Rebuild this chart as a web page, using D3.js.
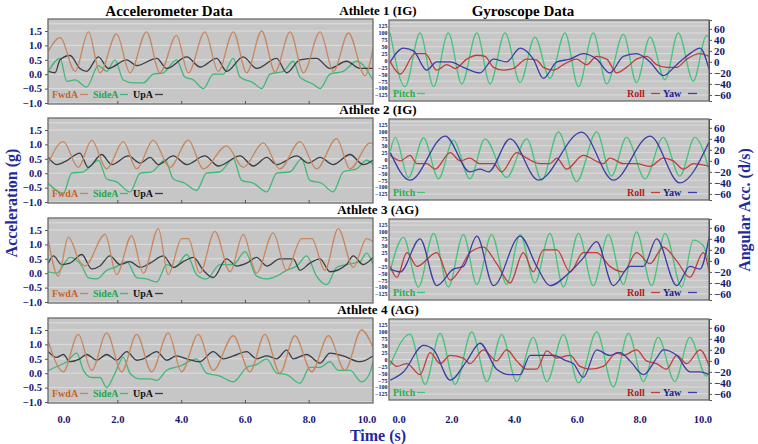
<!DOCTYPE html>
<html><head><meta charset="utf-8">
<script src="https://cdn.jsdelivr.net/npm/d3@7"></script>
<style>
body{margin:0;background:#fff}
text{font-family:"Liberation Serif","Times New Roman",serif;font-weight:bold}
</style>
</head><body><svg id="c" width="758" height="444"></svg>
<script>
// ---------- labels ----------
const athletes = ["Athlete 1 (IG)", "Athlete 2 (IG)", "Athlete 3 (AG)", "Athlete 4 (AG)"];
const accTicks = [1.5, 1.0, 0.5, 0.0, -0.5, -1.0];
const pitchTicks = [125, 100, 75, 50, 25, 0, -25, -50, -75, -100, -125];
const rateTicks = [60, 40, 20, 0, -20, -40, -60];
const timeTicks = [0, 2, 4, 6, 8, 10];

// ---------- Athlete 1 accelerometer ----------
const fwdA_t1 = [-0.18,0.19,0.66,1.08,1.44,1.96,2.38,2.90,3.32,3.84,4.21,4.73,5.15,5.62,6.04,6.51,6.93,7.40,7.82,8.34,8.76,9.23,9.75,10.0];
const fwdA_v1 = [0.8,1.27,0.1,1.47,0.05,1.4,0.05,1.47,0.05,1.35,0.05,1.47,0.1,1.47,0.05,1.5,0.08,1.47,0.05,1.47,0.1,1.43,-0.05,0.9];
const sideA_t1 = [-0.18,0.19,0.40,0.66,1.02,1.39,1.65,1.91,2.17,2.49,2.80,3.11,3.43,3.84,4.10,4.37,4.68,4.99,5.30,5.62,5.83,6.25,6.51,6.77,7.19,7.50,7.71,8.13,8.34,8.65,9.07,9.49,10.0];
const sideA_v1 = [0.1,0.55,-0.25,-0.2,-0.45,0.3,0.1,0.5,-0.2,-0.3,-0.3,0.0,0.05,0.5,-0.1,-0.2,-0.5,0.0,0.0,0.55,-0.1,-0.3,-0.5,0.0,0.1,0.45,-0.1,-0.35,-0.5,0.0,0.1,0.45,-0.2];
const upA_t1 = [-0.18,0.03,0.19,0.50,0.81,1.02,1.39,1.70,2.28,2.59,3.22,3.53,4.16,4.58,5.10,5.41,5.93,6.35,6.98,7.29,7.71,8.23,8.65,9.17,9.59,10.0];
const upA_v1 = [0.1,0.05,0.5,0.65,0.2,0.1,0.6,0.2,0.5,0.3,0.55,0.2,0.6,0.25,0.55,0.1,0.6,0.2,0.55,0.05,0.5,0.55,0.2,0.45,0.2,0.2];

// ---------- Athlete 2 accelerometer ----------
const fwdA_t2 = [-0.18,0.29,0.76,1.18,1.65,2.17,2.59,3.11,3.63,4.21,4.68,5.41,5.93,6.56,7.08,7.71,8.23,8.86,9.28,9.91,10.0];
const fwdA_v2 = [0.35,1.1,0.2,1.15,0.15,1.1,0.15,1.15,0.2,1.15,0.15,0.95,0.2,1.05,0.15,1.1,0.15,1.2,0.15,1.05,1.0];
const sideA_t2 = [-0.18,0.29,0.55,0.92,1.39,1.65,1.96,2.38,2.70,3.06,3.48,3.74,4.10,4.47,4.78,5.20,5.62,5.88,6.25,6.67,6.98,7.40,7.76,8.02,8.39,8.75,9.07,9.49,9.80,10.0];
const sideA_v2 = [-0.35,-0.7,0.0,0.05,0.45,-0.2,-0.3,-0.65,0.0,0.05,0.45,-0.2,-0.35,-0.6,0.0,0.05,0.5,-0.25,-0.35,-0.65,0.0,0.05,0.5,-0.25,-0.35,-0.65,0.05,0.15,0.45,0.3];
const upA_t2 = [-0.18,0.08,0.34,0.81,1.07,1.49,1.81,2.33,2.70,3.01,3.27,3.74,4.16,4.73,5.15,5.83,6.25,6.67,6.98,7.61,7.97,8.34,8.75,9.28,9.69,10.0];
const upA_v2 = [0.55,0.3,0.4,0.7,0.2,0.65,0.3,0.6,0.35,0.55,0.3,0.6,0.3,0.6,0.25,0.6,0.25,0.55,0.3,0.6,0.35,0.55,0.3,0.65,0.3,0.45];

// ---------- Athlete 3 accelerometer ----------
const fwdA_t3 = [-0.18,0.13,0.45,0.81,0.97,1.60,1.96,2.43,2.80,3.27,3.58,4.00,4.21,4.57,5.04,5.52,5.93,6.35,6.87,7.29,7.76,8.08,8.49,8.91,9.38,9.80,10.0];
const fwdA_v3 = [1.15,-0.1,1.25,0.4,0.25,1.35,-0.05,1.3,0.0,1.55,-0.05,1.2,1.2,0.0,1.45,0.05,1.35,0.0,1.4,0.1,1.2,1.2,0.1,1.55,0.2,1.2,1.1];
const sideA_t3 = [-0.18,0.08,0.50,0.87,1.07,1.34,1.65,1.91,2.28,2.59,2.90,3.22,3.53,3.79,4.16,4.47,4.78,5.20,5.62,5.99,6.35,6.67,6.98,7.29,7.61,7.92,8.23,8.55,8.86,9.17,9.59,9.80,10.0];
const sideA_v3 = [0.05,0.0,0.55,0.25,-0.15,-0.2,0.1,0.2,0.4,-0.15,-0.2,-0.3,0.3,0.2,0.65,-0.05,-0.2,0.3,0.3,0.75,-0.1,-0.2,-0.1,0.1,0.25,0.6,-0.1,-0.4,0.2,0.3,0.4,0.7,0.3];
const upA_t3 = [-0.18,-0.02,0.24,0.50,0.87,1.18,1.44,1.75,2.07,2.38,2.70,3.01,3.43,3.74,4.05,4.37,4.68,4.99,5.41,5.72,6.04,6.35,6.67,7.08,7.50,7.71,8.02,8.34,8.65,9.17,9.38,9.69,10.0];
const upA_v3 = [0.35,0.6,0.3,0.35,0.65,0.15,0.25,0.6,0.3,0.4,0.2,0.35,0.6,0.2,0.4,0.55,0.1,-0.15,0.5,0.25,0.35,0.55,0.25,0.5,0.5,0.1,0.35,0.5,0.05,0.3,0.6,0.3,0.55];

// ---------- Athlete 4 accelerometer ----------
const fwdA_t4 = [-0.18,0.29,0.76,1.18,1.65,2.12,2.59,3.06,3.58,4.00,4.52,4.99,5.62,6.14,6.61,7.08,7.55,8.08,8.60,9.12,9.64,10.0];
const fwdA_v4 = [1.1,0.05,1.35,0.1,1.4,0.05,1.35,0.05,1.4,0.05,1.35,0.1,1.3,0.05,1.35,0.0,1.3,0.05,1.3,0.1,1.5,0.9];
const sideA_t4 = [-0.18,0.13,0.40,0.71,0.92,1.18,1.44,1.65,1.91,2.17,2.38,2.70,3.01,3.22,3.53,3.95,4.47,4.78,5.20,5.62,6.04,6.35,6.67,6.98,7.29,7.71,8.02,8.34,8.65,8.91,9.28,9.64,9.90,10.0];
const sideA_v4 = [0.1,0.25,0.4,0.7,0.1,-0.15,-0.15,-0.5,0.0,0.55,0.0,-0.2,-0.2,-0.25,0.1,0.25,0.5,0.0,-0.1,-0.3,0.2,0.3,0.5,0.0,-0.05,-0.35,0.2,0.2,0.4,0.1,0.1,-0.3,0.0,0.4];
const upA_t4 = [-0.18,0.08,0.29,0.50,0.81,1.02,1.34,1.65,1.96,2.28,2.59,2.80,3.22,3.53,3.84,4.16,4.57,4.99,5.31,5.62,6.04,6.35,6.67,6.98,7.29,7.50,7.92,8.34,8.65,9.07,9.59,10.0];
const upA_v4 = [0.75,0.55,0.65,0.4,0.5,0.65,0.45,0.65,0.45,0.75,0.45,0.5,0.75,0.45,0.6,0.5,0.4,0.75,0.5,0.6,0.75,0.5,0.6,0.5,0.8,0.5,0.65,0.35,0.7,0.6,0.4,0.6];

// ---------- Athlete 1 gyroscope ----------
const pitch_t1 = [-0.06,0.41,0.89,1.32,1.79,2.22,2.70,3.12,3.60,4.08,4.55,5.03,5.51,5.94,6.41,6.84,7.37,7.79,8.22,8.70,9.12,9.60,10.02,10.11];
const pitch_v1 = [100,-95,100,-95,100,-85,100,-85,100,-80,85,-65,100,-95,100,-85,95,-80,85,-70,100,-75,90,85];
const roll_t1 = [-0.06,0.26,0.73,1.05,1.42,1.74,2.01,2.38,2.70,2.96,3.23,3.55,3.86,4.29,4.61,4.82,5.14,5.46,5.88,6.20,6.52,6.84,7.16,7.47,7.79,8.11,8.43,8.75,9.07,9.39,9.81,10.11];
const roll_v1 = [0,-22,15,15,-15,-5,-12,5,12,10,-10,-15,-12,5,3,-10,-15,-5,5,-5,10,5,-20,-10,5,10,-5,-10,-10,5,15,10];
const yaw_t1 = [-0.06,0.36,0.68,1.10,1.42,1.85,2.27,2.80,3.23,3.65,4.08,4.50,4.82,5.25,5.67,6.09,6.52,6.94,7.37,7.79,8.22,8.64,9.07,9.49,9.81,10.11];
const yaw_v1 = [0,25,20,-15,0,0,-10,-20,5,0,25,5,-30,0,5,15,5,-20,10,15,0,-25,-5,15,25,-15];

// ---------- Athlete 2 gyroscope ----------
const pitch_t2 = [-0.06,0.10,0.52,1.00,1.48,1.95,2.48,2.96,3.65,4.29,4.77,5.30,5.88,6.52,6.99,7.47,8.06,8.64,9.17,9.65,10.11];
const pitch_v2 = [30,80,-65,78,-70,70,-70,75,-65,75,-75,100,-80,100,-60,80,-70,80,-60,80,-40];
const roll_t2 = [-0.06,0.26,0.57,0.79,1.10,1.37,1.85,2.17,2.48,2.80,3.23,3.49,3.97,4.29,4.71,5.03,5.25,5.56,6.09,6.73,6.94,7.37,7.79,8.22,8.64,8.96,9.28,9.60,10.11];
const roll_v2 = [10,0,10,-5,-5,-15,15,0,5,-5,-5,-20,15,5,-5,-5,5,-15,10,-5,5,-5,-5,-10,5,0,-15,-5,-10];
const yaw_t2 = [-0.06,0.57,1.69,2.48,2.80,3.07,3.76,4.66,6.04,7.05,8.22,9.17,10.11];
const yaw_v2 = [15,-35,45,-20,-15,-20,40,-35,52,-35,45,-40,35];

// ---------- Athlete 3 gyroscope ----------
const pitch_t3 = [-0.06,0.36,0.84,1.32,1.79,2.27,2.70,3.17,3.65,4.08,4.55,5.03,5.46,5.94,6.41,6.89,7.37,7.79,8.27,8.70,9.23,9.60,9.92,10.11];
const pitch_v3 = [-40,80,-100,95,-100,90,-90,90,-90,90,-85,95,-100,95,-95,90,-90,100,-95,95,-100,70,50,-20];
const roll_t3 = [-0.06,0.15,0.47,0.79,1.42,1.85,2.17,2.48,2.91,3.33,3.76,4.18,4.50,4.82,5.25,5.67,6.09,6.52,6.94,7.37,7.79,8.22,8.64,9.07,9.49,9.92,10.11];
const roll_v3 = [-10,-30,15,-10,15,-35,-15,15,25,-5,-40,15,-20,20,20,-20,15,15,-10,-20,15,-5,25,0,-30,15,-20];
const yaw_t3 = [-0.06,0.26,0.89,1.42,1.95,2.27,2.70,3.23,4.08,4.61,5.03,5.67,6.09,6.52,7.05,7.58,8.01,8.43,9.07,9.49,9.81,10.11];
const yaw_v3 = [-15,-20,40,-45,-15,-10,45,-45,45,-10,-45,-20,5,35,-45,-10,-10,40,-45,-10,-15,45];

// ---------- Athlete 4 gyroscope ----------
const pitch_t4 = [-0.06,0.57,1.05,1.53,2.01,2.54,3.02,3.49,3.97,4.50,4.93,5.46,5.94,6.52,7.05,7.53,8.01,8.48,9.01,9.49,10.02,10.11];
const pitch_v4 = [-20,92,-90,95,-90,100,-80,90,-80,80,-80,90,-85,100,-100,95,-80,80,-80,80,-60,-40];
const roll_t4 = [-0.06,0.15,0.47,0.89,1.21,1.53,1.85,2.27,2.48,2.91,3.33,3.65,3.97,4.29,4.61,4.93,5.25,5.67,5.99,6.31,6.73,7.16,7.37,7.79,8.11,8.43,8.75,9.07,9.39,9.81,10.11];
const roll_v4 = [0,-10,-5,-25,15,-5,10,5,-5,20,0,20,0,-15,-15,18,5,10,-10,-15,-10,15,10,20,0,-5,-15,10,-5,20,-10];
const yaw_t4 = [-0.06,0.36,1.00,1.32,1.85,2.38,2.80,3.33,3.76,4.08,4.40,4.82,5.14,5.56,5.78,6.09,6.52,6.94,7.26,7.58,8.01,8.43,8.64,9.07,9.49,9.81,10.11];
const yaw_v4 = [-35,-20,28,20,-35,0,32,-15,-25,-25,10,10,10,0,-5,-30,20,10,15,0,-25,5,20,10,-20,-20,-25];

// ---------- build tables ----------
const zip = (t, v) => t.map((d, i) => ({t: d, v: v[i]}));
const accData = [
  [zip(fwdA_t1, fwdA_v1), zip(sideA_t1, sideA_v1), zip(upA_t1, upA_v1)],
  [zip(fwdA_t2, fwdA_v2), zip(sideA_t2, sideA_v2), zip(upA_t2, upA_v2)],
  [zip(fwdA_t3, fwdA_v3), zip(sideA_t3, sideA_v3), zip(upA_t3, upA_v3)],
  [zip(fwdA_t4, fwdA_v4), zip(sideA_t4, sideA_v4), zip(upA_t4, upA_v4)]
];
const gyrData = [
  [zip(pitch_t1, pitch_v1), zip(roll_t1, roll_v1), zip(yaw_t1, yaw_v1)],
  [zip(pitch_t2, pitch_v2), zip(roll_t2, roll_v2), zip(yaw_t2, yaw_v2)],
  [zip(pitch_t3, pitch_v3), zip(roll_t3, roll_v3), zip(yaw_t3, yaw_v3)],
  [zip(pitch_t4, pitch_v4), zip(roll_t4, roll_v4), zip(yaw_t4, yaw_v4)]
];
const accColors = ["#c8865e", "#3fb878", "#3a3e44"];
const gyrColors = ["#44c47a", "#c23c3c", "#3c3ca6"];

// ---------- drawing ----------
const svg = d3.select("#c");
const navy = "#15156e";
const blue = "#1f2a9c";
const rowTop = [19, 118, 218, 318];
const accH = 85, gyrH = 81;
const accX = d3.scaleLinear().domain([-0.19, 10.0]).range([48, 373]);
const gyrX = d3.scaleLinear().domain([-0.1, 10.1]).range([389, 709]);

// titles
svg.append("text").attr("x", 169).attr("y", 16).attr("text-anchor", "middle")
  .attr("font-size", 15).text("Accelerometer Data");
svg.append("text").attr("x", 523).attr("y", 16).attr("text-anchor", "middle")
  .attr("font-size", 15).text("Gyroscope Data");
svg.append("text").attr("transform", "translate(17,203) rotate(-90)").attr("text-anchor", "middle")
  .attr("font-size", 16).attr("fill", blue).text("Acceleration (g)");
svg.append("text").attr("transform", "translate(750,210) rotate(-90)").attr("text-anchor", "middle")
  .attr("font-size", 16).attr("fill", blue).text("Angular Acc. (d/s)");
svg.append("text").attr("x", 378).attr("y", 441).attr("text-anchor", "middle")
  .attr("font-size", 16).attr("fill", blue).text("Time (s)");

const defs = svg.append("defs");

athletes.forEach((name, i) => {
  const top = rowTop[i];
  const gt = top + 1;
  svg.append("text").attr("x", 378).attr("y", top - 4).attr("text-anchor", "middle")
    .attr("font-size", 13).text(name);

  // ---- accelerometer panel ----
  const ay = d3.scaleLinear().domain([-1.035, 1.917]).range([top + accH, top]);
  const ga = svg.append("g");
  ga.append("rect").attr("x", accX.range()[0]).attr("y", top).attr("width", accX.range()[1] - accX.range()[0])
    .attr("height", accH).attr("fill", "#c6c6c6");
  ga.selectAll("line.g").data(accTicks.concat([1.75])).join("line")
    .attr("x1", accX.range()[0]).attr("x2", accX.range()[1])
    .attr("y1", d => ay(d)).attr("y2", d => ay(d)).attr("stroke", "#dedede").attr("stroke-width", 1);
  defs.append("clipPath").attr("id", "ca" + i).append("rect")
    .attr("x", accX.range()[0]).attr("y", top).attr("width", accX.range()[1] - accX.range()[0]).attr("height", accH);
  const aline = d3.line().x(d => accX(d.t)).y(d => ay(d.v)).curve(d3.curveMonotoneX);
  const ord = [1, 2, 0];
  ord.forEach(k => {
    ga.append("path").attr("d", aline(accData[i][k])).attr("fill", "none")
      .attr("stroke", accColors[k]).attr("stroke-width", 1.3).attr("clip-path", "url(#ca" + i + ")");
  });
  ga.append("rect").attr("x", accX.range()[0]).attr("y", top).attr("width", accX.range()[1] - accX.range()[0])
    .attr("height", accH).attr("fill", "none").attr("stroke", "#6a6a6a").attr("stroke-width", 1.3);
  // y ticks
  const axA = d3.axisLeft(ay).tickValues(accTicks).tickSize(3).tickFormat(d3.format(".1f"));
  const gax = svg.append("g").attr("transform", `translate(${accX.range()[0]},0)`).call(axA);
  gax.select(".domain").remove();
  gax.selectAll("line").attr("stroke", "#555");
  gax.selectAll("text").attr("fill", navy).attr("font-size", 10.5)
    .style("font-family", '"Liberation Serif",serif').style("font-weight", "bold");
  // bottom minor tick marks
  ga.selectAll("line.xt").data(timeTicks.slice(1, 5)).join("line")
    .attr("x1", d => accX(d)).attr("x2", d => accX(d)).attr("y1", top + accH).attr("y2", top + accH - 3)
    .attr("stroke", "#555");
  // legend
  const ly = top + 79;
  const aLeg = [
    {lab: "FwdA", col: "#c8641e", x: 52, d0: 80, d1: 88, dc: accColors[0]},
    {lab: "SideA", col: "#22a64a", x: 93, d0: 120, d1: 128, dc: accColors[1]},
    {lab: "UpA", col: "#111", x: 133, d0: 155, d1: 163, dc: accColors[2]}
  ];
  aLeg.forEach(l => {
    ga.append("text").attr("x", l.x).attr("y", ly).attr("font-size", 10).attr("fill", l.col).text(l.lab);
    ga.append("line").attr("x1", l.d0).attr("x2", l.d1).attr("y1", ly - 3.5).attr("y2", ly - 3.5)
      .attr("stroke", l.dc).attr("stroke-width", 1.3);
  });

  // ---- gyroscope panel ----
  const py = d3.scaleLinear().domain([-147, 147]).range([gt + gyrH, gt]);
  const ry = d3.scaleLinear().domain([-71, 76]).range([gt + gyrH, gt]);
  const gg = svg.append("g");
  gg.append("rect").attr("x", gyrX.range()[0]).attr("y", gt).attr("width", gyrX.range()[1] - gyrX.range()[0])
    .attr("height", gyrH).attr("fill", "#c6c6c6");
  gg.selectAll("line.g").data(pitchTicks.concat([137.5])).join("line")
    .attr("x1", gyrX.range()[0]).attr("x2", gyrX.range()[1])
    .attr("y1", d => py(d)).attr("y2", d => py(d)).attr("stroke", "#dcdcdc").attr("stroke-width", 1);
  defs.append("clipPath").attr("id", "cg" + i).append("rect")
    .attr("x", gyrX.range()[0]).attr("y", gt).attr("width", gyrX.range()[1] - gyrX.range()[0]).attr("height", gyrH);
  const scales = [py, ry, ry];
  gyrData[i].forEach((ser, k) => {
    const ln = d3.line().x(d => gyrX(d.t)).y(d => scales[k](d.v)).curve(d3.curveMonotoneX);
    gg.append("path").attr("d", ln(ser)).attr("fill", "none")
      .attr("stroke", gyrColors[k]).attr("stroke-width", 1.3).attr("clip-path", "url(#cg" + i + ")");
  });
  gg.append("rect").attr("x", gyrX.range()[0]).attr("y", gt).attr("width", gyrX.range()[1] - gyrX.range()[0])
    .attr("height", gyrH).attr("fill", "none").attr("stroke", "#6a6a6a").attr("stroke-width", 1.3);
  const axP = d3.axisLeft(py).tickValues(pitchTicks).tickSize(0).tickPadding(1.5);
  const gpx = svg.append("g").attr("transform", `translate(${gyrX.range()[0]},0)`).call(axP);
  gpx.select(".domain").remove();
  gpx.selectAll("text").attr("fill", navy).attr("font-size", 6)
    .style("font-family", '"Liberation Serif",serif').style("font-weight", "bold");
  const axR = d3.axisRight(ry).tickValues(rateTicks).tickSize(3).tickPadding(2);
  const grx = svg.append("g").attr("transform", `translate(${gyrX.range()[1]},0)`).call(axR);
  grx.select(".domain").attr("stroke", "#555");
  grx.selectAll("line").attr("stroke", "#555");
  grx.selectAll("text").attr("fill", navy).attr("font-size", 11)
    .style("font-family", '"Liberation Serif",serif').style("font-weight", "bold");
  // legend
  const gy = gt + 77;
  const gLeg = [
    {lab: "Pitch", col: "#22b04a", x: 393, d0: 417, d1: 425, dc: gyrColors[0]},
    {lab: "Roll", col: "#b02020", x: 627, d0: 651, d1: 660, dc: gyrColors[1]},
    {lab: "Yaw", col: "#1a1a90", x: 663, d0: 688, d1: 697, dc: gyrColors[2]}
  ];
  gLeg.forEach(l => {
    gg.append("text").attr("x", l.x).attr("y", gy).attr("font-size", 10).attr("fill", l.col).text(l.lab);
    gg.append("line").attr("x1", l.d0).attr("x2", l.d1).attr("y1", gy - 3.5).attr("y2", gy - 3.5)
      .attr("stroke", l.dc).attr("stroke-width", 1.3);
  });
});

// x axes (time)
const accShift = [10, 0, 0, 0, 0, -6];
const gyrShift = [7, -3, -3, -3, -3, -3];
const xa = svg.append("g").attr("font-size", 10.5).attr("fill", navy).attr("text-anchor", "middle");
timeTicks.forEach((d, j) => {
  xa.append("text").attr("x", accX(d) + accShift[j]).attr("y", 423).text(d3.format(".1f")(d));
  xa.append("text").attr("x", gyrX(d) + gyrShift[j]).attr("y", 423).text(d3.format(".1f")(d));
});
</script>
</body></html>
